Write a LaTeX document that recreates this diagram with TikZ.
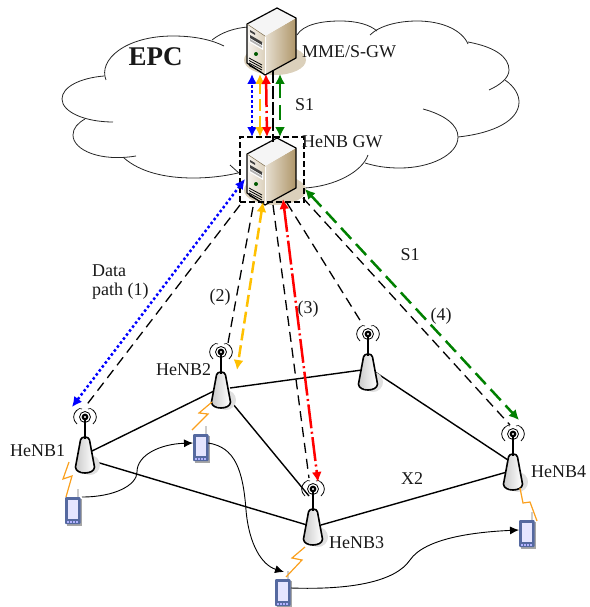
\documentclass[tikz,border=0pt]{standalone}
\usepackage{fontspec}
\setmainfont{Liberation Serif}
\usetikzlibrary{arrows.meta,calc}
\definecolor{srvorange}{RGB}{255,192,0}
\definecolor{srvgreen}{RGB}{0,128,0}
\definecolor{srvtan}{RGB}{175,150,105}
\definecolor{phblue}{RGB}{85,105,160}
\definecolor{zap}{RGB}{250,160,30}
\tikzset{
  cloudline/.style={line width=0.8pt,black!85},
  lbl/.style={font=\fontsize{18}{20}\selectfont,inner sep=0pt,text=black!90},
  link/.style={line width=1.4pt,black},
  sigdash/.style={line width=1.3pt,dash pattern=on 10pt off 6pt,black},
  bothtips/.style={{Latex[length=10pt,width=10pt]}-{Latex[length=10pt,width=10pt]}},
  blueline/.style={line width=2.5pt,blue,dash pattern=on 2.5pt off 2.5pt,bothtips},
  orangeline/.style={line width=2.5pt,srvorange,dash pattern=on 12pt off 5pt,bothtips},
  redline/.style={line width=2.5pt,red,dash pattern=on 24pt off 3.5pt on 2pt off 3.5pt,bothtips},
  greenline/.style={line width=2.5pt,srvgreen,dash pattern=on 15pt off 7pt,bothtips},
  moveline/.style={line width=0.9pt,black,-{Latex[length=9pt,width=8pt]}},
  zapline/.style={line width=1.2pt,zap},
  server/.pic={
    \fill[srvtan!45] (-2,52) ellipse [x radius=31,y radius=15];
    \path[left color=white!90!srvtan,right color=srvtan!45] (-30,16) -- (-12,28) -- (-12,67) -- (-30,55) -- cycle;
    \path[left color=white!70!srvtan,right color=srvtan] (-12,28) -- (19,10) -- (19,50) -- (-12,67) -- cycle;
    \fill[black!4] (-30,16) -- (0,0) -- (19,10) -- (-12,28) -- cycle;
    \draw[line width=1.2pt,line join=round] (-30,16) -- (0,0) -- (19,10) -- (19,50) -- (-12,67) -- (-30,55) -- cycle;
    \draw[line width=0.5pt,srvtan!70!black] (-30,16) -- (-12,28);
    \draw[line width=0.8pt,white] (-12,29) -- (-12,66);
    \fill[white] (-28,27) -- (-14,35) -- (-14,42) -- (-28,34) -- cycle;
    \fill[black!75] (-27,27) -- (-15,34) -- (-15,37) -- (-27,30) -- cycle;
    \fill[black!75] (-27,22) -- (-22,25) -- (-22,27) -- (-27,24) -- cycle;
    \fill[black!30] (-27,31) -- (-15,38) -- (-15,40) -- (-27,33) -- cycle;
    \fill[srvgreen!70!black] (-21,46) circle (2);
    \foreach \q in {0,2.5,5,7.5}{\draw[line width=0.8pt] (-28,50+\q) -- (-15,57+\q);}
  },
  tower/.pic={
    \fill[black!12] (5,27) circle (10);
    \path[left color=black!20,right color=white] (-5,0) -- (5,0) -- (9,33) -- (-9,33) -- cycle;
    \draw[line width=1.6pt,line join=round] (-4.5,2) .. controls (-4,-2) and (4,-2) .. (4.5,2) -- (9.5,29) .. controls (9.5,37) and (-9.5,37) .. (-9.5,29) -- cycle;
    \draw[line width=2pt] (0,1) -- (0,-21);
    \fill (0,-21) circle (3.4);
    \fill[white] (0,-21) circle (1.2);
    \draw[line width=0.8pt] (0,-21) circle (5.5);
    \draw[line width=0.8pt] (-8,-28) .. controls (-12.5,-24) and (-12.5,-18) .. (-8,-14);
    \draw[line width=0.8pt] (8,-28) .. controls (12.5,-24) and (12.5,-18) .. (8,-14);
    \draw[line width=0.6pt] (-9,-27) .. controls (-5,-30) .. (-3,-29);
    \draw[line width=0.6pt] (9,-27) .. controls (5,-30) .. (3,-29);
  },
  phone/.pic={
    \fill[black!35] (1.5,1.5) rectangle (17,28.5);
    \fill[black!20] (11.5,-8) rectangle (13.5,1);
    \fill[phblue,rounded corners=1pt] (0,0) rectangle (15.5,27);
    \fill[white!90!blue] (2.5,3) rectangle (13,21.5);
    \foreach \q in {3,6,9,12}{\fill[white!70!blue] (\q-0.8,23.5) rectangle (\q+0.8,25.5);}
  }
}
\begin{document}
\begin{tikzpicture}[x=1pt,y=-1pt]
\useasboundingbox (0,0) rectangle (589,607);
% cloud
\draw[cloudline] (106,80) .. controls (98,60) and (125,36) .. (173,36) .. controls (195,36) and (212,40) .. (224,46);
\draw[cloudline] (212,40) .. controls (222,32) and (235,28) .. (248,27);
\draw[cloudline] (297,35) .. controls (303,25) and (320,21) .. (340,21) .. controls (358,21) and (370,25) .. (377,31);
\draw[cloudline] (370,35) .. controls (380,25) and (400,21) .. (417,21) .. controls (442,21) and (462,30) .. (468,44);
\draw[cloudline] (468,42) .. controls (495,47) and (509,57) .. (509,70) .. controls (509,78) and (500,85) .. (489,90);
\draw[cloudline] (505,80) .. controls (515,87) and (519,95) .. (519,102) .. controls (519,120) and (495,133) .. (458,137);
\draw[cloudline] (423,109) .. controls (445,115) and (458,125) .. (458,137) .. controls (458,155) and (430,168) .. (400,168) .. controls (385,168) and (375,166) .. (365,163);
\draw[cloudline] (368,155) .. controls (362,172) and (335,186) .. (305,188);
\draw[cloudline] (124,158) .. controls (140,172) and (165,178) .. (193,178) .. controls (210,178) and (225,176) .. (238,173);
\draw[cloudline] (230,165) -- (240,174);
\draw[cloudline] (136,156) .. controls (100,162) and (73,150) .. (73,135) .. controls (73,128) and (78,123) .. (85,119);
\draw[cloudline] (113,122) .. controls (85,122) and (62,112) .. (62,99) .. controls (62,87) and (80,78) .. (104,76);
% named anchors
\coordinate (mmeBlue) at (252,74); \coordinate (gwBlue) at (252,137);
\coordinate (mmeOr) at (260,74); \coordinate (gwOr) at (260,137);
\coordinate (mmeRed) at (266,74); \coordinate (gwRed) at (267,137);
\coordinate (mmeGr) at (280,74); \coordinate (gwGr) at (280,137);
\coordinate (mmeBk) at (273,70); \coordinate (gwBk) at (273,142);
\coordinate (gwB2) at (245,179); \coordinate (ueB) at (72,407);
\coordinate (gwO2) at (263,202); \coordinate (ueO) at (237,370);
\coordinate (gwR2) at (283,199); \coordinate (ueR) at (318,482);
\coordinate (gwG2) at (305,189); \coordinate (ueG) at (519,420);
\coordinate (h1top) at (85,407); \coordinate (h2top) at (228,343);
\coordinate (h3top) at (309,478); \coordinate (h4top) at (510,425);
\coordinate (h5top) at (363,325);
% servers
\pic at (277,8) {server};
\pic at (277,138) {server};
\node[draw,line width=1.5pt,dash pattern=on 6pt off 3pt,minimum width=64pt,minimum height=65pt,inner sep=0pt] (gwbox) at (272,169.5) {};
% server signals
\draw[sigdash,line width=1.5pt,dash pattern=on 13pt off 3pt] (mmeBk) -- (gwBk);
\draw[blueline] (gwBlue) -- (mmeBlue);
\draw[orangeline] (gwOr) -- (mmeOr);
\draw[redline,dash pattern=on 24pt off 4pt on 2pt off 4pt] (mmeRed) -- (gwRed);
\draw[greenline] (mmeGr) -- (gwGr);
% links
\coordinate (l1a) at (92,451); \coordinate (l1b) at (216,390);
\coordinate (l2a) at (93,461); \coordinate (l2b) at (307,525);
\coordinate (l3a) at (228,398); \coordinate (l3b) at (309,496);
\coordinate (l4a) at (230,388); \coordinate (l4b) at (362,370);
\coordinate (l5a) at (375,372); \coordinate (l5b) at (508,460);
\coordinate (l6a) at (321,525); \coordinate (l6b) at (507,472);
\draw[link] (l1a) -- (l1b);
\draw[link] (l2a) -- (l2b);
\draw[link] (l3a) -- (l3b);
\draw[link] (l4a) -- (l4b);
\draw[link] (l5a) -- (l5b);
\draw[link] (l6a) -- (l6b);
% towers
\pic at (85,438) {tower};
\pic at (221,373) {tower};
\pic at (313,510) {tower};
\pic at (513,455) {tower};
\pic at (368,355) {tower};
% dashed to towers
\coordinate (gwd1) at (240,205); \coordinate (gwd2) at (253,207);
\coordinate (gwd3) at (273,205); \coordinate (gwd4) at (287,203);
\coordinate (gwd5) at (303,198);
\draw[sigdash] (gwd1) -- (h1top);
\draw[sigdash] (gwd2) -- (h2top);
\draw[sigdash] (gwd3) -- (h3top);
\draw[sigdash] (gwd4) -- (h5top);
\draw[sigdash] (gwd5) -- (h4top);
% coloured paths
\draw[blueline] (gwB2) -- (ueB);
\draw[orangeline] (gwO2) -- (ueO);
\draw[redline] (gwR2) -- (ueR);
\draw[greenline] (gwG2) -- (ueG);
% phones
\pic at (65,497) {phone};
\pic at (193,434) {phone};
\pic at (275,579) {phone};
\pic at (519,520) {phone};
% lightning
\draw[zapline] (69,462) -- (63,479) -- (72,476) -- (66,497);
\draw[zapline] (212,402) -- (199,413) -- (208,414) -- (192,430);
\draw[zapline] (305,547) -- (292,558) -- (302,560) -- (286,577);
\draw[zapline] (520,488) -- (523,503) -- (530,502) -- (537,521);
% moves
\coordinate (p1) at (82,497); \coordinate (p2in) at (193,443);
\coordinate (p2out) at (208,443); \coordinate (p3in) at (284,572);
\coordinate (p3out) at (291,588); \coordinate (p4in) at (519,530);
\draw[moveline] (p1) .. controls (115,497) and (137,485) .. (137,472) .. controls (137,455) and (160,444) .. (p2in);
\draw[moveline] (p2out) .. controls (235,447) and (243,470) .. (246,510) .. controls (249,545) and (262,565) .. (p3in);
\draw[moveline] (p3out) .. controls (350,590) and (395,582) .. (410,560) .. controls (425,538) and (475,532) .. (p4in);
% labels
\node[lbl,font=\fontsize{27}{30}\selectfont\bfseries] (epc) at (155.5,57) {EPC};
\node[lbl,anchor=west] (mmel) at (302,52) {MME/S-GW};
\node[lbl,anchor=west] (s1a) at (295,105) {S1};
\node[lbl,anchor=west] (gwl) at (302,142) {HeNB GW};
\node[lbl,anchor=west] (dp1) at (92,271) {Data};
\node[lbl,anchor=west] (dp2) at (92,291) {path (1)};
\node[lbl] (n2) at (220,297) {(2)};
\node[lbl] (n3) at (308,309) {(3)};
\node[lbl] (n4) at (441,316) {(4)};
\node[lbl] (s1b) at (410,255) {S1};
\node[lbl,anchor=west] (h1l) at (10,451) {HeNB1};
\node[lbl,anchor=west] (h2l) at (156,370) {HeNB2};
\node[lbl,anchor=west] (h3l) at (329,543) {HeNB3};
\node[lbl,anchor=west] (h4l) at (531,472) {HeNB4};
\node[lbl] (x2) at (412,479) {X2};
\end{tikzpicture}
\end{document}
